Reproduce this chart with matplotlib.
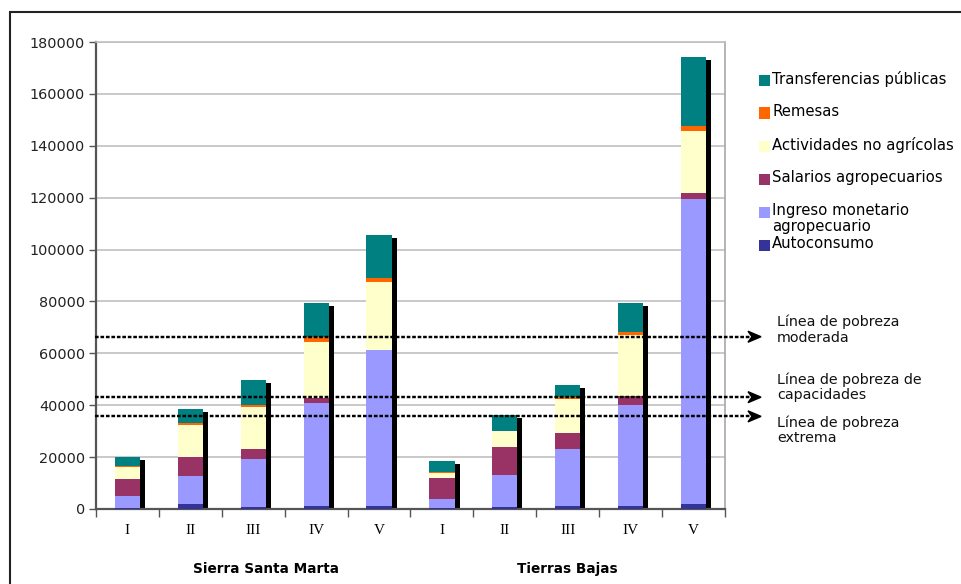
import matplotlib

matplotlib.use("Agg")
import matplotlib.pyplot as plt
import matplotlib.transforms as mtransforms
from matplotlib.patches import Rectangle, Polygon
import numpy as np

plt.rcParams["font.family"] = ["DejaVu Sans"]

# ingreso por quintil, dos regiones
quintiles = ["I", "II", "III", "IV", "V"]
regions = ["Sierra Santa Marta", "Tierras Bajas"]

series_names = [
    "Autoconsumo",
    "Ingreso monetario\nagropecuario",
    "Salarios agropecuarios",
    "Actividades no agrícolas",
    "Remesas",
    "Transferencias públicas",
]
series_colors = ["#333399", "#9999FF", "#993366", "#FFFFCC", "#FF6600", "#008080"]

# Sierra I..V, Tierras Bajas I..V
autoconsumo = [500, 1900, 900, 1200, 1200, 300, 900, 1300, 1300, 1900]
ingreso_monetario = [4500, 10800, 18400, 39700, 59900, 3600, 12200, 21800, 38800, 117600]
salarios = [6600, 7200, 3800, 1900, 200, 8100, 10800, 6200, 3500, 2400]
actividades = [4700, 12600, 16200, 21600, 26200, 1900, 6200, 13100, 23500, 23800]
remesas = [400, 700, 800, 2000, 1700, 500, 100, 600, 1200, 1800]
transferencias = [3200, 5300, 9600, 13000, 16400, 4100, 6000, 4800, 11100, 26900]

poverty_values = [66400, 43100, 35700]
poverty_labels = [
    "Línea de pobreza\nmoderada",
    "Línea de pobreza de\ncapacidades",
    "Línea de pobreza\nextrema",
]

W, H = 962, 584
fig = plt.figure(figsize=(W / 100, H / 100), dpi=100)
ax = fig.add_axes([96 / W, 1 - 509 / H, 629 / W, 467 / H])

series = [autoconsumo, ingreso_monetario, salarios, actividades, remesas, transferencias]
x = np.arange(len(quintiles) * len(regions))
bar_w = 0.4
totals = np.sum(series, axis=0)

# sombra negra detras de cada barra
shadow_dx = 5 / 62.9
shadow_dy = 3 / 2.594 * 1000
ax.bar(x + shadow_dx, totals - shadow_dy + 500, bottom=-500, width=bar_w,
       color="black", zorder=2, clip_on=False)

bottom = np.zeros(len(x))
for vals, col in zip(series, series_colors):
    ax.bar(x, vals, bottom=bottom, width=bar_w, color=col, zorder=3, linewidth=0)
    bottom += np.array(vals)

ax.set_xlim(-0.5, 9.5)
ax.set_ylim(0, 180000)
ax.set_yticks(np.arange(0, 180001, 20000))
ax.yaxis.grid(True, color="#c0c0c0", lw=1.2, zorder=0)
ax.set_axisbelow(True)
ax.tick_params(axis="y", direction="out", length=5, color="#555555", width=1,
               labelsize=10.4, labelcolor="#222222", pad=3)

ax.set_xticks(x)
ax.set_xticklabels(quintiles * len(regions), family="Liberation Serif", fontsize=11)
ax.tick_params(axis="x", which="major", length=0, pad=11)
ax.set_xticks(np.arange(-0.5, 10, 1), minor=True)
ax.tick_params(axis="x", which="minor", direction="out", length=6, color="#555555", width=1)

for s in ["left", "bottom"]:
    ax.spines[s].set_color("#555555")
    ax.spines[s].set_linewidth(1.6)
ax.spines["right"].set_color("#a8a8a8")
ax.spines["top"].set_color("#c0c0c0")
ax.spines["right"].set_linewidth(1.2)
ax.spines["top"].set_linewidth(1.2)

# nombres de las regiones
blend_xd = mtransforms.blended_transform_factory(ax.transData, ax.transAxes)
for xc, name in zip([2.2, 7.0], regions):
    ax.text(xc, -0.128, name, transform=blend_xd, ha="center", va="center",
            fontsize=9.8, fontweight="bold")

# lineas de pobreza con flecha
blend_ay = mtransforms.blended_transform_factory(ax.transAxes, ax.transData)
px_x = 1 / 629
px_y = 1000 / 2.594
text_dy = [7, 10, -14]
for val, lab, dy in zip(poverty_values, poverty_labels, text_dy):
    ax.plot([-0.002, 1.041], [val, val], transform=blend_ay, color="black", lw=1.75,
            dashes=(1.5, 0.75), solid_capstyle="butt", dash_capstyle="butt",
            clip_on=False, zorder=5)
    tip = 1.0 + 36 * px_x
    head = Polygon(
        [(tip, val), (tip - 13 * px_x, val + 5.5 * px_y),
         (tip - 9 * px_x, val), (tip - 13 * px_x, val - 5.5 * px_y)],
        closed=True, transform=blend_ay, color="black", clip_on=False, zorder=5)
    ax.add_patch(head)
    ax.annotate(lab, xy=(1.0, val), xycoords=blend_ay, xytext=(52, dy),
                textcoords="offset pixels", ha="left", va="center",
                fontsize=10.3, color="#111111", linespacing=1.1)

# leyenda
legend_y = [245, 212, 179, 146, 113, 80]
for name, col, yc in zip(series_names, series_colors, legend_y):
    fig.patches.append(Rectangle((759 / W, 1 - (yc + 5.5) / H), 11 / W, 11 / H,
                                 transform=fig.transFigure, facecolor=col,
                                 edgecolor="none"))
    fig.text(772 / W, 1 - (yc - 9) / H, name, ha="left", va="top",
             fontsize=10.7, color="black", linespacing=1.08)

# marco exterior
fig.patches.append(Rectangle((10 / W, -0.1), 1.2, 1.1 - 12 / H,
                             transform=fig.transFigure, facecolor="none",
                             edgecolor="#222222", linewidth=1.5))

fig.savefig("out.png", dpi=100)
